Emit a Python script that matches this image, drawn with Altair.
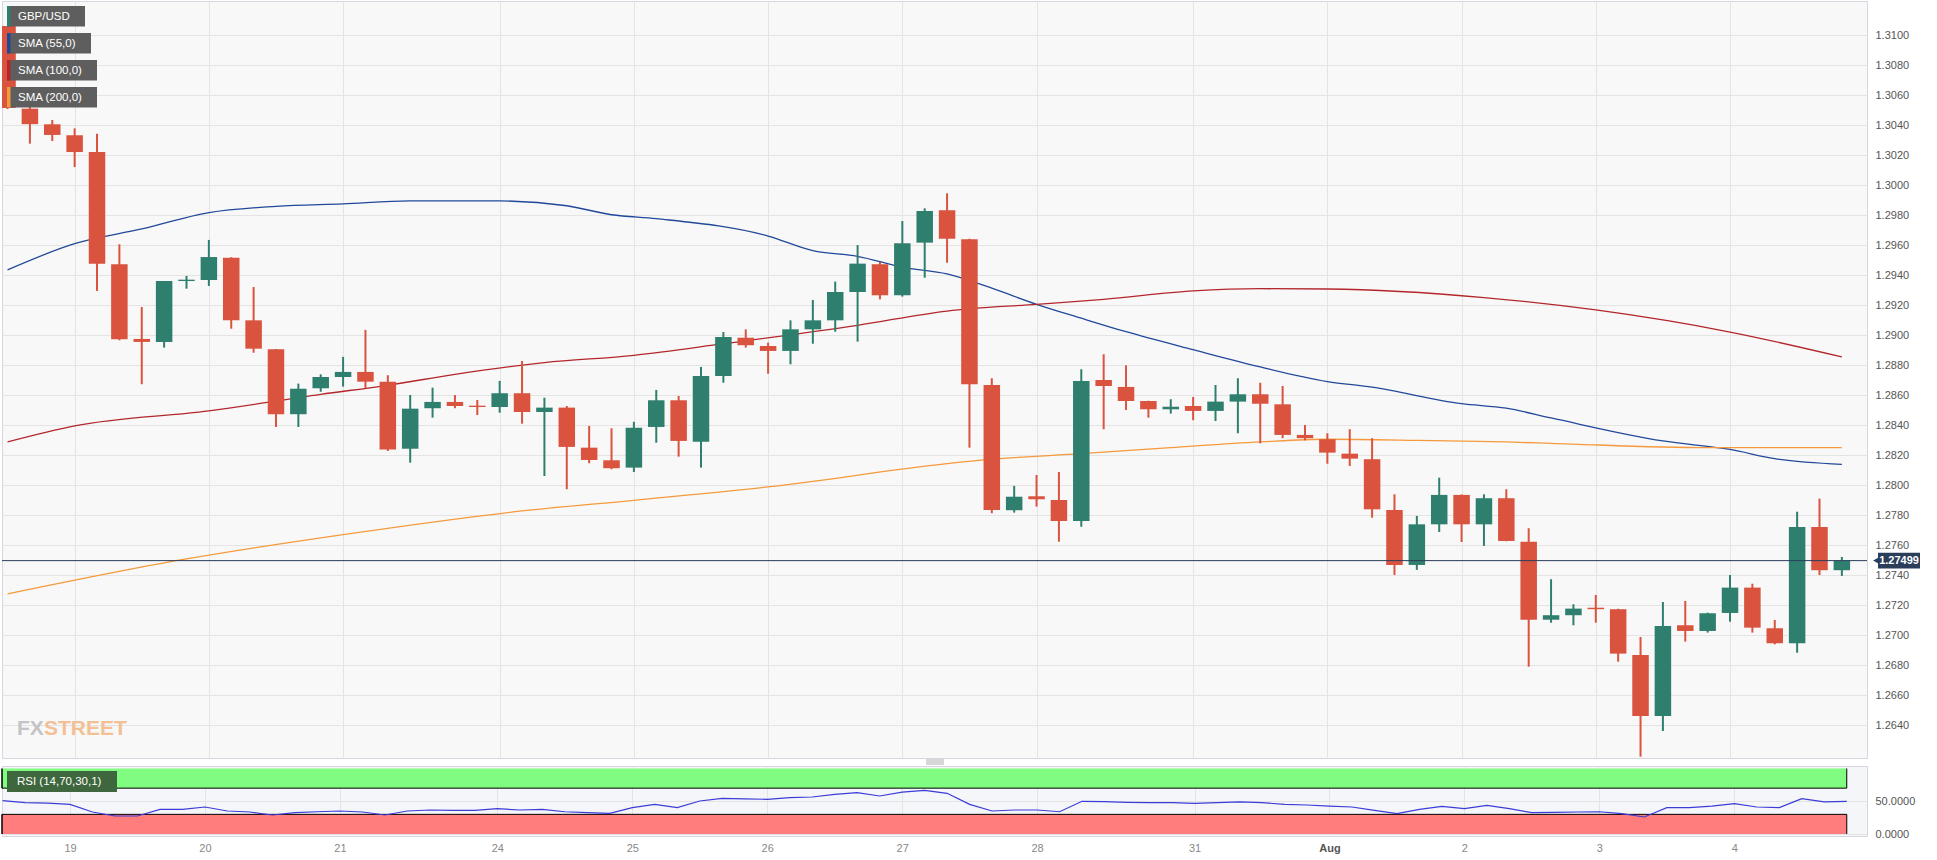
import altair as alt
import pandas as pd

# ---------------- data (GBP/USD 4H candles, index 0 = Jul 19 00:00) ----------------
candle_idx = list(range(-3, 80))
opens = [1.31063, 1.30512, 1.30408, 1.30335, 1.30223, 1.29475, 1.28977, 1.28957, 1.29363, 1.29370,
         1.29519, 1.29101, 1.28908, 1.28475, 1.28648, 1.28723, 1.28757, 1.28692, 1.28245, 1.28515,
         1.28557, 1.28532, 1.28523, 1.28615, 1.28490, 1.28519, 1.28252, 1.28168, 1.28119, 1.28390,
         1.28568, 1.28292, 1.28730, 1.28985, 1.28930, 1.28897, 1.29041, 1.29101, 1.29290, 1.29475,
         1.29268, 1.29619, 1.29835, 1.29641, 1.28670, 1.27835, 1.27928, 1.27903, 1.27763, 1.28703,
         1.28657, 1.28563, 1.28508, 1.28530, 1.28497, 1.28559, 1.28608, 1.28541, 1.28337, 1.28308,
         1.28212, 1.28175, 1.27837, 1.27470, 1.27741, 1.27937, 1.27741, 1.27915, 1.27625, 1.27105,
         1.27135, 1.27185, 1.27175, 1.26870, 1.26463, 1.27068, 1.27030, 1.27150, 1.27319, 1.27048,
         1.26948, 1.27723, 1.27435]
highs = [1.31063, 1.30550, 1.30437, 1.30381, 1.30345, 1.29608, 1.29190, 1.29363, 1.29397, 1.29637,
         1.29522, 1.29323, 1.28910, 1.28679, 1.28741, 1.28857, 1.29037, 1.28735, 1.28603, 1.28652,
         1.28603, 1.28570, 1.28697, 1.28830, 1.28585, 1.28530, 1.28397, 1.28381, 1.28425, 1.28637,
         1.28597, 1.28790, 1.29023, 1.29041, 1.28952, 1.29101, 1.29237, 1.29359, 1.29603, 1.29490,
         1.29763, 1.29848, 1.29948, 1.29645, 1.28715, 1.27997, 1.28070, 1.28090, 1.28775, 1.28875,
         1.28801, 1.28565, 1.28575, 1.28590, 1.28670, 1.28715, 1.28685, 1.28663, 1.28403, 1.28348,
         1.28375, 1.28315, 1.27941, 1.27797, 1.28052, 1.27940, 1.27941, 1.27975, 1.27715, 1.27375,
         1.27208, 1.27270, 1.27178, 1.26990, 1.27223, 1.27230, 1.27152, 1.27403, 1.27345, 1.27103,
         1.27825, 1.27912, 1.27523]
lows = [1.30510, 1.30279, 1.30297, 1.30123, 1.29297, 1.28968, 1.28675, 1.28919, 1.29312, 1.29330,
        1.29045, 1.28885, 1.28390, 1.28390, 1.28625, 1.28659, 1.28648, 1.28230, 1.28152, 1.28452,
        1.28515, 1.28470, 1.28485, 1.28412, 1.28063, 1.27975, 1.28148, 1.28108, 1.28090, 1.28285,
        1.28192, 1.28119, 1.28685, 1.28919, 1.28745, 1.28808, 1.28945, 1.29025, 1.28959, 1.29241,
        1.29259, 1.29385, 1.29485, 1.28252, 1.27815, 1.27819, 1.27859, 1.27625, 1.27725, 1.28375,
        1.28503, 1.28452, 1.28479, 1.28435, 1.28430, 1.28348, 1.28281, 1.28315, 1.28301, 1.28145,
        1.28130, 1.27785, 1.27403, 1.27437, 1.27690, 1.27623, 1.27597, 1.27628, 1.26792, 1.27085,
        1.27068, 1.27085, 1.26825, 1.26192, 1.26363, 1.26959, 1.27019, 1.27092, 1.27019, 1.26941,
        1.26885, 1.27403, 1.27397]
closes = [1.30517, 1.30409, 1.30337, 1.30223, 1.29479, 1.28975, 1.28957, 1.29363, 1.29372, 1.29523,
          1.29101, 1.28912, 1.28475, 1.28645, 1.28723, 1.28757, 1.28692, 1.28239, 1.28512, 1.28557,
          1.28530, 1.28523, 1.28615, 1.28490, 1.28519, 1.28257, 1.28170, 1.28115, 1.28385, 1.28568,
          1.28297, 1.28730, 1.28990, 1.28935, 1.28897, 1.29041, 1.29101, 1.29290, 1.29479, 1.29268,
          1.29615, 1.29830, 1.29645, 1.28675, 1.27837, 1.27925, 1.27908, 1.27763, 1.28697, 1.28663,
          1.28563, 1.28508, 1.28525, 1.28497, 1.28559, 1.28608, 1.28545, 1.28337, 1.28315, 1.28219,
          1.28179, 1.27841, 1.27470, 1.27741, 1.27937, 1.27741, 1.27915, 1.27630, 1.27105, 1.27135,
          1.27179, 1.27175, 1.26879, 1.26463, 1.27063, 1.27030, 1.27148, 1.27319, 1.27052, 1.26948,
          1.27723, 1.27435, 1.27499]
rsi_vals = [51, 48, 47, 45.3, 33.6, 27.5, 27.5, 37.7, 37.7, 41.2,
            35.1, 33.6, 29, 32.5, 34, 35.1, 33.6, 29, 35.1, 36.6,
            36.1, 36.1, 38.6, 36.6, 37.7, 34, 32.5, 31.6, 40.2, 45.3,
            40.2, 50.4, 54.5, 53.5, 53, 55.4, 56.5, 60.6, 63.1, 58,
            64, 66.7, 62.1, 45.3, 35.1, 36.6, 36.6, 34, 49.9, 49.3,
            48.4, 47.8, 47.8, 46.8, 47.8, 48.9, 47.8, 45.3, 44.3, 42.7,
            41.2, 36.1, 31, 37.7, 42.3, 38.6, 43.8, 38.6, 32.5, 33.1,
            33.6, 34, 31, 26, 40.2, 40.2, 42.7, 46.3, 41.2, 40.2,
            53.9, 48.9, 49.9]

sma55_idx = [-3, 0, 3, 6, 9, 12, 15, 19, 22, 24, 26, 31, 33, 35, 37, 39, 41, 43, 45, 47,
             50, 53, 56, 58, 62, 64, 66, 71, 74, 76, 79]
sma55_val = [1.29437, 1.29612, 1.29710, 1.29819, 1.29861, 1.29878, 1.29897, 1.29897, 1.29865,
             1.29805, 1.29779, 1.29663, 1.29565, 1.29528, 1.29455, 1.29410, 1.29315, 1.29208,
             1.29115, 1.29025, 1.28905, 1.28790, 1.28693, 1.28655, 1.28545, 1.28515, 1.28450,
             1.28297, 1.28240, 1.28179, 1.28141]
sma100_idx = [-3, 0, 6, 11, 14, 17, 21, 25, 29, 35, 39, 43, 46, 50, 53, 56, 63, 68, 74, 79]
sma100_val = [1.28290, 1.28397, 1.28497, 1.28608, 1.28668, 1.28741, 1.28819, 1.28868, 1.28945,
              1.29068, 1.29163, 1.29208, 1.29241, 1.29297, 1.29312, 1.29310, 1.29253, 1.29170,
              1.29023, 1.28857]
sma200_idx = [-3, 5, 12, 20, 25, 31, 39, 41, 45, 49, 53, 56, 60, 64, 66, 73, 79]
sma200_val = [1.27277, 1.27510, 1.27672, 1.27830, 1.27901, 1.27990, 1.28145, 1.28175, 1.28212,
              1.28252, 1.28290, 1.28308, 1.28301, 1.28290, 1.28281, 1.28252, 1.28252]

last_price = 1.27499

tick_idx = [0, 6, 12, 19, 25, 31, 37, 43, 50, 56, 62, 68, 74]
tick_lbl = ["19", "20", "21", "24", "25", "26", "27", "28", "31", "Aug", "2", "3", "4"]
price_ticks = [1.2640, 1.2660, 1.2680, 1.2700, 1.2720, 1.2740, 1.2760, 1.2780, 1.2800, 1.2820,
               1.2840, 1.2860, 1.2880, 1.2900, 1.2920, 1.2940, 1.2960, 1.2980, 1.3000, 1.3020,
               1.3040, 1.3060, 1.3080, 1.3100]
rsi_ticks = [0, 50]

legend_labels = ["GBP/USD", "SMA (55,0)", "SMA (100,0)", "SMA (200,0)"]
sma_names = ["SMA (55,0)", "SMA (100,0)", "SMA (200,0)"]

# ---------------- styling ----------------
FONT = "Liberation Sans"
UP = "#2f7f6f"
DOWN = "#d9533f"
BLUE = "#22489a"
DRED = "#b3272c"
ORANGE = "#f59a3c"
NAVY = "#2a3d5a"
GRID = "#e4e4e4"
W = 1865
H_MAIN = 757
H_RSI = 70
X_DOM = [-3.024, 79.9]
Y_DOM = [1.26183, 1.3123]
RSI_DOM = [-3.05, 103.8]

df = pd.DataFrame(dict(i=candle_idx, o=opens, h=highs, l=lows, c=closes))
df["dir"] = ["up" if c >= o else "down" for o, c in zip(opens, closes)]

sma_df = pd.concat([
    pd.DataFrame({"i": sma55_idx, "v": sma55_val, "s": sma_names[0]}),
    pd.DataFrame({"i": sma100_idx, "v": sma100_val, "s": sma_names[1]}),
    pd.DataFrame({"i": sma200_idx, "v": sma200_val, "s": sma_names[2]}),
], ignore_index=True)

xs = alt.Scale(domain=X_DOM, nice=False, zero=False)
ys = alt.Scale(domain=Y_DOM, nice=False, zero=False)

xax = alt.Axis(values=tick_idx, labels=False, ticks=False, tickSize=0, domain=False,
               grid=True, gridColor=GRID, title=None)
yax = alt.Axis(orient="right", values=price_ticks, format=".4f", grid=True, gridColor=GRID,
               ticks=False, tickSize=0, domain=False, labelPadding=8, labelFontSize=11,
               labelColor="#555555", labelFont=FONT, title=None)

X = alt.X("i:Q", scale=xs, axis=xax)
dir_col = alt.Color("dir:N", scale=alt.Scale(domain=["up", "down"], range=[UP, DOWN]), legend=None)

wicks = alt.Chart(df).mark_rule(strokeWidth=2, clip=True).encode(
    x=X, y=alt.Y("l:Q", scale=ys, axis=yax), y2="h:Q", color=dir_col)
bodies = alt.Chart(df).mark_bar(size=16.5, clip=True).encode(
    x=X, y=alt.Y("o:Q", scale=ys, axis=yax), y2="c:Q", color=dir_col)

smas = alt.Chart(sma_df).mark_line(strokeWidth=1.3, clip=True, interpolate="monotone").encode(
    x=X, y=alt.Y("v:Q", scale=ys, axis=yax),
    color=alt.Color("s:N", scale=alt.Scale(domain=sma_names, range=[BLUE, DRED, ORANGE]), legend=None),
    order="i:Q")

last_df = pd.DataFrame({"p": [last_price], "lbl": [f"{last_price:.5f}"]})
last_rule = alt.Chart(last_df).mark_rule(color=NAVY, strokeWidth=1).encode(
    y=alt.Y("p:Q", scale=ys, axis=yax))
tag_rect = alt.Chart(last_df).transform_calculate(
    hi="datum.p + 0.00052", lo="datum.p - 0.00052").mark_rect(color=NAVY).encode(
    x=alt.value(W + 11), x2=alt.value(W + 53), y=alt.Y("hi:Q", scale=ys, axis=yax), y2="lo:Q")
tag_tri = alt.Chart(last_df).mark_point(shape="triangle-left", filled=True, color=NAVY,
                                        size=80, opacity=1).encode(
    x=alt.value(W + 10), y=alt.Y("p:Q", scale=ys, axis=yax))
tag_txt = alt.Chart(last_df).mark_text(color="white", fontWeight="bold", fontSize=11,
                                       font=FONT, baseline="middle").encode(
    x=alt.value(W + 32), y=alt.Y("p:Q", scale=ys, axis=yax), text="lbl:N")

one = pd.DataFrame({"a": [0]})
legend_layers = []
leg_colors = [UP, BLUE, DRED, ORANGE]
leg_widths = [78, 84, 90, 90]
for k, (lab, colr, w) in enumerate(zip(legend_labels, leg_colors, leg_widths)):
    top = 5 + 27 * k
    legend_layers.append(alt.Chart(one).mark_rect(color="#5e5e5e").encode(
        x=alt.value(5), x2=alt.value(5 + w), y=alt.value(top), y2=alt.value(top + 20.5)))
    legend_layers.append(alt.Chart(one).mark_rect(color=colr).encode(
        x=alt.value(5), x2=alt.value(8.5), y=alt.value(top), y2=alt.value(top + 20.5)))
    legend_layers.append(alt.Chart(one).mark_text(
        align="left", baseline="middle", color="white", fontSize=11.5, font=FONT).encode(
        x=alt.value(16), y=alt.value(top + 10.5), text=alt.value(lab)))

wm1 = alt.Chart(one).mark_text(align="left", baseline="alphabetic", fontSize=21, fontWeight="bold",
                               font=FONT, color="#c4c4c4").encode(
    x=alt.value(15), y=alt.value(734), text=alt.value("FX"))
wm2 = alt.Chart(one).mark_text(align="left", baseline="alphabetic", fontSize=21, fontWeight="bold",
                               font=FONT, color="#f3c096").encode(
    x=alt.value(42), y=alt.value(734), text=alt.value("STREET"))

main = alt.layer(wm1, wm2, smas, wicks, bodies, last_rule, tag_rect, tag_tri, tag_txt,
                 *legend_layers).resolve_scale(color="independent").properties(
    width=W, height=H_MAIN, view=alt.ViewBackground(fill="#f8f8f8", stroke="#d6d6de"))

# ---------------- RSI panel ----------------
rxs = alt.Scale(domain=X_DOM, nice=False, zero=False)
rys = alt.Scale(domain=RSI_DOM, nice=False, zero=False)
label_expr = " : ".join(f"datum.value == {i} ? '{l}'" for i, l in zip(tick_idx, tick_lbl)) + " : ''"
aug_idx = tick_idx[tick_lbl.index("Aug")]
rx_ax = alt.Axis(values=tick_idx, labelExpr=label_expr, grid=True, gridColor=GRID, ticks=False,
                 tickSize=0, domain=False, labelPadding=6, labelFontSize=11, labelFont=FONT,
                 labelColor={"condition": {"test": f"datum.value == {aug_idx}", "value": "#555555"},
                             "value": "#888888"},
                 labelFontWeight={"condition": {"test": f"datum.value == {aug_idx}", "value": "bold"},
                                  "value": "normal"},
                 title=None)
ry_ax = alt.Axis(orient="right", values=rsi_ticks, format=".4f", grid=True, gridColor=GRID,
                 ticks=False, tickSize=0, domain=False, labelPadding=8, labelFontSize=11,
                 labelColor="#555555", labelFont=FONT, title=None)
RX = alt.X("i:Q", scale=rxs, axis=rx_ax)

rsi_df = pd.DataFrame({"i": candle_idx, "r": rsi_vals})
band_df = pd.DataFrame({"x0": [X_DOM[0]] * 2, "x1": [candle_idx[-1]] * 2,
                        "lo": [70, 0], "hi": [100, 30], "zone": ["over", "under"]})
bands = alt.Chart(band_df).mark_rect().encode(
    x=alt.X("x0:Q", scale=rxs, axis=rx_ax), x2="x1:Q",
    y=alt.Y("lo:Q", scale=rys, axis=ry_ax), y2="hi:Q",
    color=alt.Color("zone:N", scale=alt.Scale(domain=["over", "under"], range=["#80fc80", "#ff7d7d"]),
                    legend=None))
level_df = pd.DataFrame({"x0": [X_DOM[0]] * 2, "x1": [candle_idx[-1]] * 2, "lvl": [70, 30]})
level_rules = alt.Chart(level_df).mark_rule(color="black", strokeWidth=1).encode(
    x=alt.X("x0:Q", scale=rxs, axis=rx_ax), x2="x1:Q", y=alt.Y("lvl:Q", scale=rys, axis=ry_ax))
edge_rules = alt.Chart(band_df).mark_rule(color="black", strokeWidth=1).encode(
    x=alt.X("x1:Q", scale=rxs, axis=rx_ax), y=alt.Y("lo:Q", scale=rys, axis=ry_ax), y2="hi:Q")
edge_rules_l = alt.Chart(band_df).mark_rule(color="black", strokeWidth=1.5).encode(
    x=alt.X("x0:Q", scale=rxs, axis=rx_ax), y=alt.Y("lo:Q", scale=rys, axis=ry_ax), y2="hi:Q")
rsi_line = alt.Chart(rsi_df).mark_line(color="#3c3cd8", strokeWidth=1.2, clip=True).encode(
    x=RX, y=alt.Y("r:Q", scale=rys, axis=ry_ax))
rsi_box = alt.Chart(one).mark_rect(color="#3e673e").encode(
    x=alt.value(5), x2=alt.value(115), y=alt.value(5), y2=alt.value(26))
rsi_txt = alt.Chart(one).mark_text(align="left", baseline="middle", color="white", fontSize=11.5,
                                   font=FONT).encode(
    x=alt.value(15), y=alt.value(15.5), text=alt.value("RSI (14,70,30,1)"))
handle = [alt.Chart(one).mark_rule(color="#9a9a9a", strokeWidth=0.8).encode(
    x=alt.value(924), x2=alt.value(942), y=alt.value(yy)) for yy in (-6, -4, -2)]

rsi = alt.layer(bands, level_rules, edge_rules, edge_rules_l, rsi_line, rsi_box, rsi_txt,
                *handle).resolve_scale(color="independent").properties(
    width=W, height=H_RSI, view=alt.ViewBackground(fill="#f4f6f9", stroke="#d6d6de"))

chart = alt.vconcat(main, rsi, spacing=8, bounds="flush").properties(
    padding=0, background="white").configure(font=FONT)

chart.save("out.html", embed_options={"renderer": "svg", "actions": False})
